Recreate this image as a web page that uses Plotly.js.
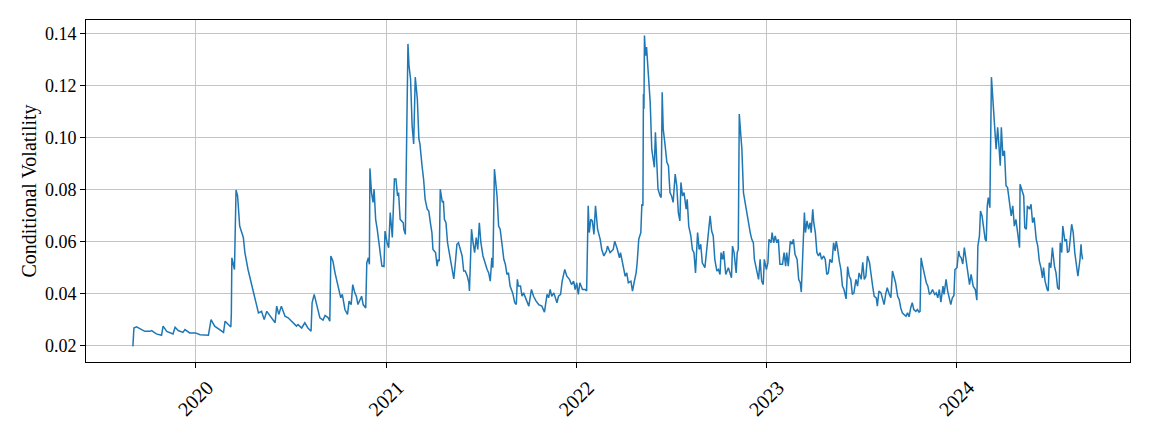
<!DOCTYPE html>
<html>
<head>
<meta charset="utf-8">
<script src="https://cdn.plot.ly/plotly-3.0.1.min.js"></script>
<style>html,body{margin:0;padding:0;background:#fff;}#chart{width:1154px;height:433px;}</style>
</head>
<body>
<div id="chart"></div>
<script>
const dates = [
"2019-09-03","2019-09-05","2019-09-10","2019-09-16","2019-09-26","2019-10-06","2019-10-09","2019-10-18","2019-10-28","2019-10-31",
"2019-11-07","2019-11-19","2019-11-23","2019-11-29","2019-12-08","2019-12-12","2019-12-21",
"2020-01-01","2020-01-10","2020-01-26","2020-01-31","2020-02-07","2020-02-20","2020-02-24","2020-02-27","2020-03-04","2020-03-09",
"2020-03-10","2020-03-11","2020-03-16","2020-03-19","2020-03-22","2020-03-26","2020-04-02","2020-04-05","2020-04-11","2020-04-17",
"2020-04-25","2020-05-01","2020-05-07","2020-05-12","2020-05-17","2020-05-21","2020-05-26","2020-06-02","2020-06-05","2020-06-09",
"2020-06-14","2020-06-21","2020-06-27","2020-07-04","2020-07-13","2020-07-16","2020-07-23","2020-07-29","2020-08-04","2020-08-10",
"2020-08-12","2020-08-16","2020-08-21","2020-08-27","2020-09-02","2020-09-06","2020-09-12","2020-09-15","2020-09-17","2020-09-21",
"2020-09-25","2020-09-28","2020-10-02","2020-10-06","2020-10-09","2020-10-14","2020-10-19","2020-10-22","2020-10-26","2020-10-29",
"2020-11-02","2020-11-05","2020-11-08","2020-11-15","2020-11-18","2020-11-23","2020-11-25","2020-11-28","2020-11-30","2020-12-01",
"2020-12-04","2020-12-07","2020-12-09","2020-12-12","2020-12-15","2020-12-20","2020-12-24","2020-12-28","2020-12-30",
"2021-01-03","2021-01-06","2021-01-09","2021-01-13","2021-01-17","2021-01-20","2021-01-23","2021-01-25","2021-01-28","2021-02-03",
"2021-02-04","2021-02-07","2021-02-12","2021-02-14","2021-02-17","2021-02-20","2021-02-23","2021-02-26","2021-03-02","2021-03-05",
"2021-03-07","2021-03-09","2021-03-11","2021-03-14","2021-03-17","2021-03-21","2021-03-24","2021-03-27","2021-03-30","2021-04-01",
"2021-04-06","2021-04-09","2021-04-11","2021-04-13","2021-04-15","2021-04-19","2021-04-21","2021-04-23","2021-04-26","2021-04-29",
"2021-05-03","2021-05-08","2021-05-11","2021-05-14","2021-05-17","2021-05-20","2021-05-24","2021-05-27","2021-05-30","2021-06-02",
"2021-06-06","2021-06-09","2021-06-10","2021-06-14","2021-06-17","2021-06-20","2021-06-23","2021-06-26","2021-06-29","2021-07-02",
"2021-07-06","2021-07-11","2021-07-14","2021-07-17","2021-07-20","2021-07-23","2021-07-25","2021-07-28","2021-08-02","2021-08-05",
"2021-08-08","2021-08-12","2021-08-15","2021-08-18","2021-08-21","2021-08-24","2021-08-27","2021-09-01","2021-09-05","2021-09-08",
"2021-09-10","2021-09-12","2021-09-16","2021-09-19","2021-09-22","2021-09-27","2021-10-02","2021-10-07","2021-10-11","2021-10-16",
"2021-10-21","2021-10-27","2021-11-01","2021-11-06","2021-11-09","2021-11-12","2021-11-15","2021-11-19","2021-11-22","2021-11-25",
"2021-11-28","2021-12-02","2021-12-05","2021-12-10","2021-12-14","2021-12-19","2021-12-23","2021-12-27","2021-12-30",
"2022-01-02","2022-01-05","2022-01-08","2022-01-13","2022-01-18","2022-01-21","2022-01-24","2022-01-26","2022-01-29","2022-02-01",
"2022-02-04","2022-02-07","2022-02-11","2022-02-16","2022-02-19","2022-02-23","2022-02-28","2022-03-02","2022-03-07","2022-03-13",
"2022-03-16","2022-03-21","2022-03-25","2022-03-27","2022-03-31","2022-04-05","2022-04-08","2022-04-11","2022-04-16","2022-04-19",
"2022-04-22","2022-04-26","2022-04-28","2022-05-01","2022-05-05","2022-05-07","2022-05-09","2022-05-10","2022-05-11","2022-05-12",
"2022-05-14","2022-05-16","2022-05-19","2022-05-23","2022-05-26","2022-05-29","2022-05-31","2022-06-02","2022-06-04","2022-06-07",
"2022-06-11","2022-06-13","2022-06-15","2022-06-17","2022-06-20","2022-06-24","2022-06-27","2022-06-30","2022-07-03","2022-07-06",
"2022-07-10","2022-07-13","2022-07-16","2022-07-19","2022-07-21","2022-07-24","2022-07-27","2022-07-31","2022-08-02","2022-08-05",
"2022-08-09","2022-08-12","2022-08-15","2022-08-18","2022-08-22","2022-08-25","2022-08-28","2022-08-31","2022-09-05","2022-09-08",
"2022-09-11","2022-09-15","2022-09-18","2022-09-21","2022-09-24","2022-09-28","2022-10-01","2022-10-04","2022-10-06","2022-10-09",
"2022-10-11","2022-10-15","2022-10-20","2022-10-23","2022-10-26","2022-10-28","2022-10-31","2022-11-04","2022-11-06","2022-11-08",
"2022-11-10","2022-11-13","2022-11-15","2022-11-18","2022-11-21","2022-11-24","2022-11-27","2022-12-01","2022-12-04","2022-12-07",
"2022-12-09","2022-12-13","2022-12-17","2022-12-20","2022-12-23","2022-12-26","2022-12-28",
"2023-01-01","2023-01-04","2023-01-06","2023-01-10","2023-01-12","2023-01-15","2023-01-18","2023-01-21","2023-01-24","2023-01-27",
"2023-02-01","2023-02-04","2023-02-07","2023-02-09","2023-02-12","2023-02-16","2023-02-19","2023-02-22","2023-02-25","2023-03-01",
"2023-03-04","2023-03-07","2023-03-09","2023-03-12","2023-03-15","2023-03-17","2023-03-20","2023-03-23","2023-03-26","2023-03-28",
"2023-03-31","2023-04-02","2023-04-05","2023-04-08","2023-04-11","2023-04-14","2023-04-17","2023-04-21","2023-04-24","2023-04-27",
"2023-04-30","2023-05-03","2023-05-07","2023-05-10","2023-05-13","2023-05-15","2023-05-17","2023-05-21","2023-05-24","2023-05-27",
"2023-05-30","2023-06-03","2023-06-06","2023-06-09","2023-06-12","2023-06-15","2023-06-18","2023-06-22","2023-06-25","2023-06-28",
"2023-07-02","2023-07-05","2023-07-08","2023-07-11","2023-07-14","2023-07-18","2023-07-21","2023-07-24","2023-07-27","2023-07-31",
"2023-08-02","2023-08-05","2023-08-09","2023-08-12","2023-08-15","2023-08-18","2023-08-21","2023-08-25","2023-08-28","2023-08-31",
"2023-09-03","2023-09-06","2023-09-10","2023-09-13","2023-09-16","2023-09-19","2023-09-22","2023-09-26","2023-09-29","2023-10-02",
"2023-10-05","2023-10-08","2023-10-11","2023-10-15","2023-10-18","2023-10-21","2023-10-23","2023-10-25","2023-10-28","2023-10-31",
"2023-11-04","2023-11-07","2023-11-10","2023-11-13","2023-11-16","2023-11-20","2023-11-23","2023-11-26","2023-11-29","2023-12-02",
"2023-12-06","2023-12-08","2023-12-12","2023-12-15","2023-12-18","2023-12-21","2023-12-24","2023-12-27","2023-12-29",
"2024-01-02","2024-01-05","2024-01-07","2024-01-10","2024-01-13","2024-01-16","2024-01-20","2024-01-23","2024-01-26","2024-01-29",
"2024-02-02","2024-02-06","2024-02-09","2024-02-11","2024-02-14","2024-02-16","2024-02-19","2024-02-22","2024-02-25","2024-02-27",
"2024-02-29","2024-03-02","2024-03-05","2024-03-08","2024-03-10","2024-03-12","2024-03-16","2024-03-17","2024-03-20","2024-03-23",
"2024-03-25","2024-03-27","2024-03-30","2024-04-02","2024-04-05","2024-04-08","2024-04-11","2024-04-15","2024-04-18","2024-04-21",
"2024-04-24","2024-04-27","2024-05-01","2024-05-02","2024-05-06","2024-05-09","2024-05-11","2024-05-14","2024-05-16","2024-05-20",
"2024-05-23","2024-05-26","2024-05-29","2024-06-02","2024-06-05","2024-06-08","2024-06-11","2024-06-14","2024-06-16","2024-06-19",
"2024-06-23","2024-06-25","2024-06-27","2024-06-30","2024-07-03","2024-07-07","2024-07-10","2024-07-13","2024-07-16","2024-07-18",
"2024-07-21","2024-07-23","2024-07-27","2024-07-30","2024-08-01","2024-08-04","2024-08-09","2024-08-12","2024-08-15","2024-08-18",
"2024-08-21","2024-08-25","2024-08-27","2024-08-28","2024-08-30"
];
const volatility = [
0.0197,0.0268,0.0272,0.0266,0.0255,0.0255,0.0258,0.0245,0.0240,0.0275,
0.0255,0.0245,0.0271,0.0258,0.0251,0.0262,0.0249,
0.0249,0.0242,0.0240,0.0300,0.0275,0.0259,0.0251,0.0294,0.0281,0.0272,
0.0323,0.0538,0.0493,0.0799,0.0776,0.0660,0.0616,0.0558,0.0493,0.0442,
0.0365,0.0326,0.0332,0.0300,0.0332,0.0320,0.0307,0.0288,0.0352,0.0320,
0.0352,0.0313,0.0307,0.0294,0.0275,0.0281,0.0268,0.0288,0.0268,0.0255,
0.0365,0.0397,0.0352,0.0307,0.0298,0.0316,0.0307,0.0294,0.0545,0.0525,
0.0480,0.0455,0.0416,0.0384,0.0397,0.0339,0.0320,0.0371,0.0358,0.0435,
0.0403,0.0390,0.0358,0.0390,0.0358,0.0345,0.0519,0.0538,0.0513,0.0882,
0.0789,0.0751,0.0802,0.0686,0.0648,0.0558,0.0506,0.0504,0.0641,
0.0596,0.0577,0.0712,0.0616,0.0841,0.0841,0.0776,0.0789,0.0686,0.0673,
0.0648,0.0628,0.1361,0.1278,0.1226,0.1046,0.0976,0.1233,0.1149,0.0995,
0.0976,0.0944,0.0892,0.0841,0.0763,0.0725,0.0718,0.0673,0.0635,0.0570,
0.0558,0.0506,0.0532,0.0525,0.0802,0.0751,0.0757,0.0686,0.0673,0.0596,
0.0545,0.0480,0.0457,0.0519,0.0590,0.0596,0.0564,0.0545,0.0487,0.0487,
0.0467,0.0442,0.0410,0.0648,0.0596,0.0558,0.0616,0.0570,0.0673,0.0596,
0.0545,0.0506,0.0493,0.0480,0.0448,0.0538,0.0500,0.0879,0.0776,0.0660,
0.0648,0.0583,0.0532,0.0513,0.0474,0.0480,0.0429,0.0403,0.0365,0.0358,
0.0455,0.0429,0.0429,0.0390,0.0403,0.0377,0.0352,0.0416,0.0390,0.0371,
0.0358,0.0352,0.0329,0.0397,0.0384,0.0416,0.0390,0.0403,0.0384,0.0365,
0.0390,0.0397,0.0448,0.0493,0.0467,0.0455,0.0435,0.0448,0.0416,
0.0442,0.0397,0.0442,0.0416,0.0416,0.0410,0.0738,0.0635,0.0686,0.0680,
0.0628,0.0738,0.0648,0.0609,0.0570,0.0545,0.0564,0.0583,0.0558,0.0570,
0.0602,0.0570,0.0538,0.0558,0.0519,0.0467,0.0480,0.0442,0.0448,0.0410,
0.0442,0.0480,0.0519,0.0609,0.0635,0.0744,0.0738,0.1168,0.1111,0.1393,
0.1316,0.1349,0.1239,0.1136,0.0956,0.0918,0.0886,0.1021,0.0944,0.0802,
0.0776,0.0770,0.1175,0.1033,0.0982,0.0905,0.0892,0.0789,0.0776,0.0751,
0.0860,0.0815,0.0712,0.0680,0.0828,0.0776,0.0789,0.0725,0.0763,0.0660,
0.0622,0.0570,0.0558,0.0480,0.0635,0.0570,0.0590,0.0519,0.0500,0.0558,
0.0635,0.0699,0.0641,0.0622,0.0532,0.0487,0.0493,0.0474,0.0558,0.0532,
0.0564,0.0474,0.0500,0.0480,0.0461,0.0583,0.0558,0.0480,0.0558,0.0570,
0.1091,0.1008,0.0956,0.0789,0.0751,0.0725,0.0686,0.0635,0.0609,0.0596,
0.0532,0.0493,0.0455,0.0532,0.0448,0.0435,0.0532,
0.0493,0.0519,0.0609,0.0596,0.0635,0.0596,0.0622,0.0596,0.0609,0.0513,
0.0513,0.0558,0.0506,0.0558,0.0506,0.0602,0.0590,0.0609,0.0551,0.0532,
0.0455,0.0442,0.0406,0.0545,0.0712,0.0635,0.0680,0.0648,0.0673,0.0635,
0.0725,0.0673,0.0635,0.0558,0.0545,0.0558,0.0532,0.0545,0.0532,0.0474,
0.0480,0.0532,0.0519,0.0596,0.0564,0.0602,0.0583,0.0525,0.0493,0.0429,
0.0416,0.0380,0.0504,0.0467,0.0455,0.0397,0.0403,0.0455,0.0429,0.0480,
0.0455,0.0521,0.0455,0.0467,0.0545,0.0519,0.0467,0.0429,0.0390,0.0384,
0.0352,0.0410,0.0403,0.0377,0.0358,0.0397,0.0423,0.0397,0.0384,0.0487,
0.0467,0.0442,0.0390,0.0377,0.0345,0.0326,0.0320,0.0313,0.0326,0.0311,
0.0345,0.0365,0.0339,0.0332,0.0339,0.0329,0.0332,0.0538,0.0506,0.0480,
0.0442,0.0429,0.0397,0.0403,0.0416,0.0397,0.0403,0.0384,0.0416,0.0367,
0.0429,0.0397,0.0455,0.0410,0.0377,0.0358,0.0384,0.0393,0.0493,
0.0500,0.0564,0.0545,0.0538,0.0514,0.0577,0.0519,0.0480,0.0435,0.0474,
0.0429,0.0416,0.0375,0.0583,0.0622,0.0718,0.0699,0.0654,0.0609,0.0602,
0.0738,0.0770,0.0731,0.1233,0.1162,0.1136,0.0995,0.0956,0.1040,0.0918,
0.0892,0.1040,0.0930,0.0950,0.0815,0.0808,0.0751,0.0699,0.0738,0.0660,
0.0686,0.0635,0.0577,0.0821,0.0789,0.0776,0.0654,0.0648,0.0738,0.0725,
0.0744,0.0673,0.0693,0.0609,0.0583,0.0525,0.0500,0.0461,0.0500,0.0448,
0.0416,0.0410,0.0519,0.0500,0.0577,0.0506,0.0480,0.0423,0.0416,0.0596,
0.0558,0.0660,0.0602,0.0609,0.0558,0.0564,0.0667,0.0635,0.0558,0.0519,
0.0467,0.0532,0.0590,0.0558,0.0532
];
const yearTicks = ["2020-01-01","2021-01-01","2022-01-01","2023-01-01","2024-01-01"];
const yearLabels = ["2020","2021","2022","2023","2024"];
const yTicks = [0.02,0.04,0.06,0.08,0.10,0.12,0.14];
const yTickLabels = ["0.02","0.04","0.06","0.08","0.10","0.12","0.14"];

const font = {family: "Liberation Serif, 'Times New Roman', serif", color: "#000", size: 18};

Plotly.newPlot("chart", [{
  x: dates, y: volatility, type: "scatter", mode: "lines",
  line: {color: "#1f77b4", width: 1.5}, hoverinfo: "x+y"
}], {
  width: 1154, height: 433,
  margin: {l: 86, r: 24, t: 20, b: 71},
  paper_bgcolor: "#fff", plot_bgcolor: "#fff",
  font: font,
  showlegend: false,
  xaxis: {
    type: "date", range: ["2019-06-05", "2024-11-29"],
    tickmode: "array", tickvals: yearTicks, ticktext: yearLabels,
    tickangle: -45, ticklabelshift: 12,
    showgrid: true, gridcolor: "#c4c4c4", gridwidth: 1,
    showline: true, linecolor: "#000", linewidth: 1, mirror: true,
    ticks: "outside", ticklen: 5, tickcolor: "#000", tickwidth: 1,
    tickfont: {size: 20}, zeroline: false
  },
  yaxis: {
    range: [0.0137, 0.1453],
    tickmode: "array", tickvals: yTicks, ticktext: yTickLabels,
    showgrid: true, gridcolor: "#c4c4c4", gridwidth: 1,
    showline: true, linecolor: "#000", linewidth: 1, mirror: true,
    ticks: "outside", ticklen: 5, tickcolor: "#000", tickwidth: 1,
    tickfont: {size: 18}, zeroline: false,
    title: {text: "Conditional Volatility", font: {size: 20}, standoff: 2}
  }
}, {displayModeBar: false, staticPlot: true});
</script>
</body>
</html>
